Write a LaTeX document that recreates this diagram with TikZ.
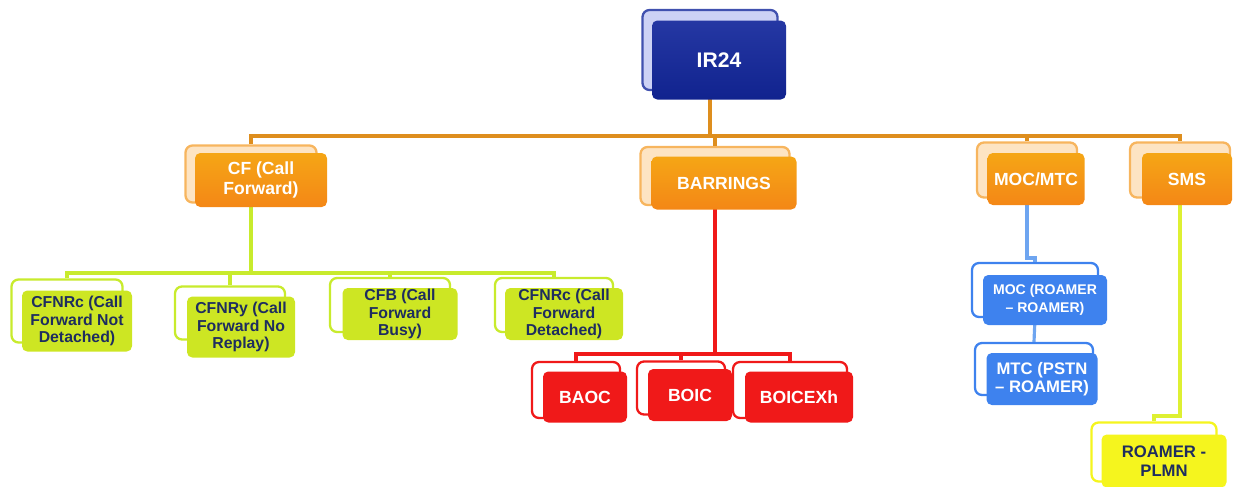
\documentclass[tikz,border=0pt]{standalone}
\usepackage{fontspec}
\setmainfont{Liberation Sans}
\usetikzlibrary{calc}

\definecolor{irblue}{RGB}{18,38,155}
\definecolor{irback}{RGB}{205,210,245}
\definecolor{orfront}{RGB}{243,150,25}
\definecolor{orback}{RGB}{253,228,195}
\definecolor{orline}{RGB}{222,142,30}
\definecolor{grfront}{RGB}{205,230,35}
\definecolor{grline}{RGB}{200,235,45}
\definecolor{rdfront}{RGB}{240,25,25}
\definecolor{blfront}{RGB}{62,130,238}
\definecolor{blline}{RGB}{110,165,240}
\definecolor{ylfront}{RGB}{245,245,30}
\definecolor{ylline}{RGB}{222,240,50}
\definecolor{navytext}{RGB}{30,45,95}

\begin{document}
\begin{tikzpicture}[x=0.02cm, y=-0.02cm,
    sz/.style 2 args={minimum width=#1*0.02cm, minimum height=#2*0.02cm},
    back/.style={draw, line width=1.3pt, rounded corners=4pt, inner sep=0pt, fill=white},
    front/.style={rounded corners=3pt, inner sep=0pt, align=center, text=white,
        font=\fontsize{10}{11}\selectfont\bfseries},
    orbox/.style={front, top color=orfront!85!yellow, bottom color=orfront!90!red},
    grbox/.style={front, fill=grfront, text=navytext, font=\fontsize{9}{9.8}\selectfont\bfseries},
    rdbox/.style={front, fill=rdfront},
    blbox/.style={front, fill=blfront, font=\fontsize{9.5}{10.5}\selectfont\bfseries},
    ylbox/.style={front, fill=ylfront, text=navytext, font=\fontsize{9.5}{10.5}\selectfont\bfseries},
    link/.style={line width=1.8pt}
]
\useasboundingbox (0,0) rectangle (1238,487);

% bus points
\coordinate (bus) at (710,136);
\coordinate (cfbus) at (251,273);
\coordinate (barbus) at (715,354);

% back boxes
\node[back, sz={135}{80}, draw=irblue!80, fill=irback] (irback) at (710,50) {};
\node[back, sz={131}{57}, draw=orfront!70, fill=orback] (cfback) at (251,174) {};
\node[back, sz={149}{58}, draw=orfront!70, fill=orback] (barback) at (715,176) {};
\node[back, sz={100}{55}, draw=orfront!70, fill=orback] (mocmtcback) at (1027,170) {};
\node[back, sz={100}{55}, draw=orfront!70, fill=orback] (smsback) at (1180,170) {};

\node[back, sz={111}{63}, draw=grline] (nrcback) at (67,311) {};
\node[back, sz={110}{53}, draw=grline] (nryback) at (230,313) {};
\node[back, sz={120}{54}, draw=grline] (cfbback) at (390,305) {};
\node[back, sz={118}{54}, draw=grline] (cfdback) at (554,305) {};

\node[back, sz={88}{56}, draw=rdfront] (baocback) at (576,390) {};
\node[back, sz={88}{53}, draw=rdfront] (boicback) at (681,388) {};
\node[back, sz={114}{56}, draw=rdfront] (boicexback) at (790,390) {};

\node[back, sz={126}{54}, draw=blfront] (mocback) at (1035,290) {};
\node[back, sz={118}{52}, draw=blfront] (mtcback) at (1034,369) {};

\node[back, sz={125}{59}, draw=ylfront] (roamback) at (1154,452) {};

% orange connectors
\draw[link, orline] (irback.south) -- (irback.south |- bus);
\draw[link, orline] (cfback.north) |- (bus) -| (smsback.north);
\draw[link, orline] (barback.north) -- (barback.north |- bus);
\draw[link, orline] (mocmtcback.north) -- (mocmtcback.north |- bus);

% green connectors
\draw[link, grline] (cfback.south) -- (cfbus);
\draw[link, grline] (nrcback.north) |- (cfbus) -| (cfdback.north);
\draw[link, grline] (nryback.north) -- (nryback.north |- cfbus);
\draw[link, grline] (cfbback.north) -- (cfbback.north |- cfbus);

% red connectors
\draw[line width=2.2pt, rdfront] (barback.south) -- (barbus);
\draw[line width=2.2pt, rdfront] (baocback.north) |- (barbus) -| (boicexback.north);
\draw[line width=2.2pt, rdfront] (boicback.north) -- (boicback.north |- barbus);

% blue connectors
\coordinate (mocjog) at (1027,258);
\draw[link, blline] (mocmtcback.south) -- (mocjog) -| (mocback.north);
\draw[link, blline] (mocback.south) -- (mtcback.north);

% yellow connector
\coordinate (smsjog) at (1180,416);
\draw[link, ylline] (smsback.south) -- (smsjog) -| (roamback.north);

% top node
\node[front, sz={134}{79}, top color=irblue!92!white, bottom color=irblue!92!black,
    font=\fontsize{12}{13}\selectfont\bfseries] (ir) at (719,60) {IR24};

% second level
\node[orbox, sz={132}{54}] (cf) at (261,180) {CF (Call\\Forward)};
\node[orbox, sz={145}{53}] (bar) at (724,183) {BARRINGS};
\node[orbox, sz={97}{52}] (mocmtc) at (1036,179) {MOC/MTC};
\node[orbox, sz={90}{52}] (sms) at (1187,179) {SMS};

% call forward children
\node[grbox, sz={110}{61}] (nrc) at (77,321) {CFNRc (Call\\Forward Not\\Detached)};
\node[grbox, sz={108}{61}] (nry) at (241,327) {CFNRy (Call\\Forward No\\Replay)};
\node[grbox, sz={115}{52}] (cfb) at (400,314) {CFB (Call\\Forward\\Busy)};
\node[grbox, sz={118}{52}] (cfd) at (564,314) {CFNRc (Call\\Forward\\Detached)};

% barring children
\node[rdbox, sz={84}{51}] (baoc) at (585,397) {BAOC};
\node[rdbox, sz={84}{52}] (boic) at (690,395) {BOIC};
\node[rdbox, sz={108}{51}] (boicex) at (799,397) {BOICEXh};

% moc/mtc children
\node[blbox, sz={124}{50}, font=\fontsize{8}{10}\selectfont\bfseries] (moc) at (1045,300) {MOC (ROAMER\\-- ROAMER)};
\node[blbox, sz={111}{52}] (mtc) at (1042,379) {MTC (PSTN\\-- ROAMER)};

% sms child
\node[ylbox, sz={125}{53}] (roam) at (1164,461) {ROAMER -\\PLMN};
\end{tikzpicture}
\end{document}
